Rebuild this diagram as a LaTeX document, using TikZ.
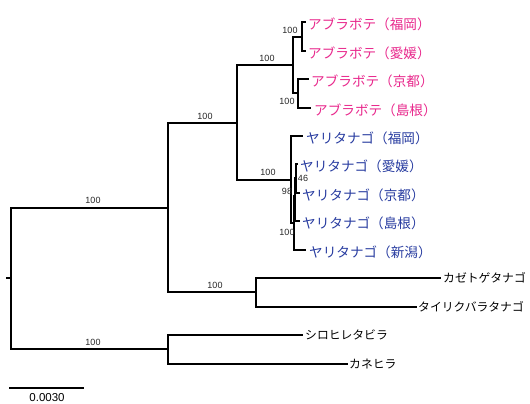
\documentclass[tikz,border=0pt]{standalone}
\usepackage{fontspec}
\setmainfont{Liberation Sans}
\newfontfamily\jp{Noto Sans CJK JP}
\definecolor{abura}{RGB}{232,40,140}
\definecolor{yari}{RGB}{40,60,160}
\begin{document}
\begin{tikzpicture}[x=1pt,y=-1pt,
  br/.style={line width=2.5pt,line cap=rect},
  bs/.style={font=\fontsize{9}{10}\selectfont,inner sep=0pt,text=black!85},
  tipA/.style={anchor=west,inner sep=0pt,text=abura,font=\jp\fontsize{13.6}{14}\selectfont},
  tipY/.style={anchor=west,inner sep=0pt,text=yari,font=\jp\fontsize{13.6}{14}\selectfont},
  tipO/.style={anchor=west,inner sep=0pt,text=black,font=\jp\fontsize{11.8}{13}\selectfont}]
\useasboundingbox (0,0) rectangle (530,404);
% internal nodes
\coordinate (rs) at (7,278);
\coordinate (R) at (11,278);
\coordinate (U) at (168,208);
\coordinate (L) at (168,349);
\coordinate (I) at (237,123);
\coordinate (KT) at (256,292);
\coordinate (A0) at (293,65);
\coordinate (Y0) at (291,180);
\coordinate (A1) at (302,37);
\coordinate (A2) at (298,93);
\coordinate (Y1) at (294,223);
\coordinate (Y2) at (295,196);
\coordinate (Y3) at (296,178);
% tips
\coordinate (a1) at (305,22);
\coordinate (a2) at (305,51);
\coordinate (a3) at (308,79);
\coordinate (a4) at (310,108);
\coordinate (y1) at (302,136);
\coordinate (y2) at (297,164);
\coordinate (y3) at (299,193);
\coordinate (y4) at (299,221);
\coordinate (y5) at (305,250);
\coordinate (k1) at (440,278);
\coordinate (k2) at (416,307);
\coordinate (s1) at (302,335);
\coordinate (s2) at (347,364);
% branches
\draw[br] (rs) -- (R);
\draw[br] (R) |- (U);
\draw[br] (R) |- (L);
\draw[br] (U) |- (I);
\draw[br] (U) |- (KT);
\draw[br] (I) |- (A0);
\draw[br] (I) |- (Y0);
\draw[br] (A0) |- (A1);
\draw[br] (A0) |- (A2);
\draw[br] (A1) |- (a1);
\draw[br] (A1) |- (a2);
\draw[br] (A2) |- (a3);
\draw[br] (A2) |- (a4);
\draw[br] (Y0) |- (y1);
\draw[br] (Y0) |- (Y1);
\draw[br] (Y1) |- (Y2);
\draw[br] (Y1) |- (y5);
\draw[br] (Y2) |- (Y3);
\draw[br] (Y2) |- (y4);
\draw[br] (Y3) |- (y2);
\draw[br] (Y3) |- (y3);
\draw[br] (KT) |- (k1);
\draw[br] (KT) |- (k2);
\draw[br] (L) |- (s1);
\draw[br] (L) |- (s2);
% tip labels
\node[tipA] (ta1) at ([xshift=3pt,yshift=-2pt]a1) {アブラボテ（福岡）};
\node[tipA] (ta2) at ([xshift=3pt,yshift=-2pt]a2) {アブラボテ（愛媛）};
\node[tipA] (ta3) at ([xshift=3pt,yshift=-2pt]a3) {アブラボテ（京都）};
\node[tipA] (ta4) at ([xshift=4pt,yshift=-2pt]a4) {アブラボテ（島根）};
\node[tipY] (ty1) at ([xshift=4pt,yshift=-2pt]y1) {ヤリタナゴ（福岡）};
\node[tipY] (ty2) at ([xshift=3pt,yshift=-2pt]y2) {ヤリタナゴ（愛媛）};
\node[tipY] (ty3) at ([xshift=3pt,yshift=-2pt]y3) {ヤリタナゴ（京都）};
\node[tipY] (ty4) at ([xshift=3pt,yshift=-2pt]y4) {ヤリタナゴ（島根）};
\node[tipY] (ty5) at ([xshift=4pt,yshift=-2pt]y5) {ヤリタナゴ（新潟）};
\node[tipO] (tk1) at ([xshift=3pt]k1) {カゼトゲタナゴ};
\node[tipO] (tk2) at ([xshift=2pt]k2) {タイリクバラタナゴ};
\node[tipO] (ts1) at ([xshift=3pt]s1) {シロヒレタビラ};
\node[tipO] (ts2) at ([xshift=2pt]s2) {カネヒラ};
% bootstrap
\node[bs] (b1) at (93,200) {100};
\node[bs] (b2) at (205,116) {100};
\node[bs] (b3) at (267,58) {100};
\node[bs] (b4) at (290,30) {100};
\node[bs] (b5) at (287,101) {100};
\node[bs] (b6) at (268,172) {100};
\node[bs] (b7) at (303,178) {46};
\node[bs] (b8) at (287,191) {98};
\node[bs] (b9) at (287,232) {100};
\node[bs] (b10) at (215,285) {100};
\node[bs] (b11) at (93,342) {100};
% scale bar
\coordinate (sb1) at (9,388);
\coordinate (sb2) at (84,388);
\draw[line width=2.5pt] (sb1) -- (sb2);
\node[font=\fontsize{11.5}{12}\selectfont,inner sep=0pt] (sbl) at (47,398) {0.0030};
\end{tikzpicture}
\end{document}
